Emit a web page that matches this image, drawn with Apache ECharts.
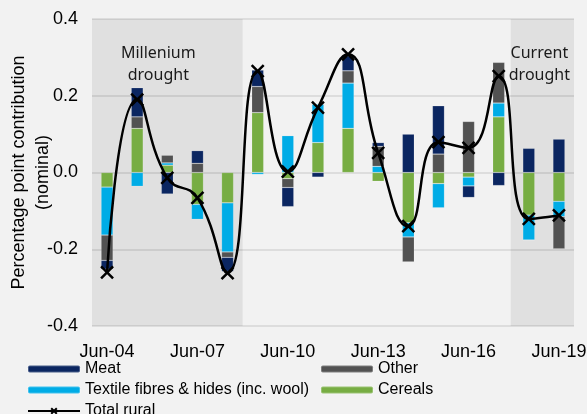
<!DOCTYPE html>
<html lang="en">
<head>
<meta charset="UTF-8">
<title>Rural contribution</title>
<script src="https://cdn.jsdelivr.net/npm/echarts@6/dist/echarts.min.js"></script>
<style>
  html, body { margin: 0; padding: 0; background: #f2f2f2; }
</style>
</head>
<body>
<div id="main" style="width:587px;height:414px;"></div>
<script type="text/javascript">
  // data
  var categories = ['Jun-04','Jun-05','Jun-06','Jun-07','Jun-08','Jun-09','Jun-10','Jun-11',
                    'Jun-12','Jun-13','Jun-14','Jun-15','Jun-16','Jun-17','Jun-18','Jun-19'];
  var meat    = [-0.023, 0.076, -0.056, 0.033, -0.037, 0.043, -0.050, -0.012, 0.039, 0.010, 0.100, 0.126, -0.030, -0.034, 0.063, 0.087];
  var other   = [-0.066, 0.030, 0.020, 0.024, -0.014, 0.068, -0.023, 0, 0.032, 0.052, -0.065, 0.048, 0.133, 0.106, 0, -0.084];
  var textile = [-0.125, -0.036, 0.006, -0.039, -0.128, -0.005, 0.096, 0.100, 0.118, 0.016, -0.037, -0.063, -0.023, 0.036, -0.065, -0.040];
  var cereals = [-0.038, 0.115, 0.019, -0.083, -0.079, 0.156, -0.016, 0.078, 0.115, -0.023, -0.131, -0.029, -0.012, 0.145, -0.111, -0.075];
  var totalRural = [-0.26, 0.19, -0.014, -0.066, -0.262, 0.264, 0.002, 0.169, 0.308, 0.051, -0.14, 0.079, 0.064, 0.251, -0.121, -0.112];
  var yTicks = [-0.4, -0.2, 0.0, 0.2, 0.4];
  // drought periods, in category index units (edges)
  var droughts = [
    { name: 'Millenium\ndrought', from: -0.5, to: 4.5, dx: -9 },
    { name: 'Current\ndrought', from: 13.4, to: 15.5, dx: -3 }
  ];

  var font = "'Liberation Sans', Arial, sans-serif";
  var myChart = echarts.init(document.getElementById('main'));

  function barSeries(name, data, color) {
    return {
      name: name,
      type: 'bar',
      stack: 'rural',
      data: data,
      barWidth: 12,
      z: 3,
      itemStyle: { color: color, borderColor: 'rgba(255,255,255,0.25)', borderWidth: 0.6 }
    };
  }

  function legendBox(left, top, names) {
    return {
      left: left, top: top, orient: 'vertical', padding: 0, itemGap: 5,
      itemWidth: 52, itemHeight: 7, height: 60,
      textStyle: { fontSize: 16, color: '#000', fontFamily: font },
      data: names
    };
  }

  myChart.setOption({
    backgroundColor: '#f2f2f2',
    animation: false,
    textStyle: { fontFamily: font },
    grid: { left: 92, right: 13, top: 19, bottom: 88, containLabel: false, outerBoundsMode: 'none' },
    legend: [
      legendBox(27, 361, ['Meat', 'Textile fibres & hides (inc. wool)']),
      legendBox(320, 361, ['Other', 'Cereals']),
      legendBox(27, 403, ['Total rural'])
    ],
    xAxis: [
      {
        type: 'category',
        data: categories,
        axisLine: { show: false, onZero: false },
        axisTick: { show: false },
        axisLabel: { interval: 2, fontSize: 18, color: '#000', margin: 17 },
        splitLine: { show: false }
      },
      {
        type: 'value', min: -0.5, max: 15.5, show: false
      }
    ],
    yAxis: {
      type: 'value',
      min: yTicks[0],
      max: yTicks[yTicks.length - 1],
      interval: 0.2,
      name: 'Percentage point contribution\n(nominal)',
      nameLocation: 'middle',
      nameGap: 37,
      nameMoveOverlap: false,
      nameTextStyle: { fontSize: 18, lineHeight: 24, color: '#000' },
      axisLine: { show: false },
      axisTick: { show: false },
      axisLabel: {
        fontSize: 18, color: '#000', margin: 14,
        formatter: function (v) { return v.toFixed(1); }
      },
      splitLine: { lineStyle: { color: '#d6d6d6', width: 1.5 } }
    },
    series: [
      {
        name: 'drought',
        type: 'line',
        xAxisIndex: 1,
        data: [],
        z: 1,
        silent: true,
        markArea: {
          silent: true,
          itemStyle: { color: 'rgba(0,0,0,0.075)' },
          label: {
            position: 'insideTop',
            fontSize: 16,
            lineHeight: 22,
            color: '#1a1a1a',
            fontFamily: "'Noto Sans', sans-serif"
          },
          data: droughts.map(function (d) {
            return [
              { xAxis: d.from, name: d.name, label: { offset: [d.dx, 18] } },
              { xAxis: d.to }
            ];
          })
        }
      },
      barSeries('Cereals', cereals, '#77ad43'),
      barSeries('Textile fibres & hides (inc. wool)', textile, '#00ace6'),
      barSeries('Other', other, '#525252'),
      barSeries('Meat', meat, '#0b2661'),
      {
        name: 'Total rural',
        type: 'line',
        data: totalRural,
        smooth: 0.5,
        z: 5,
        symbol: 'path://M0,0L10,10M10,0L0,10',
        symbolSize: 12,
        lineStyle: { color: '#000', width: 2.5 },
        itemStyle: { color: '#000', borderColor: '#000', borderWidth: 2.5 }
      }
    ]
  });
</script>
</body>
</html>
